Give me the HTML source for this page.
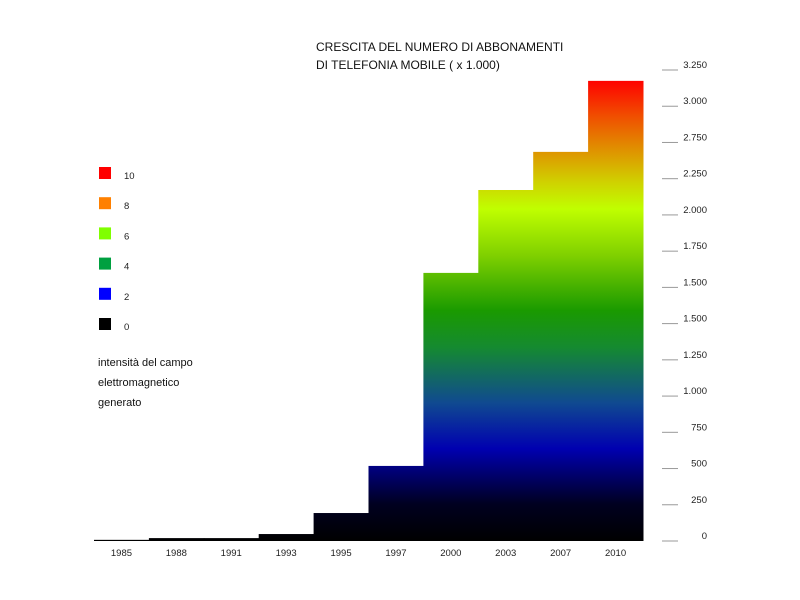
<!DOCTYPE html>
<html><head><meta charset="utf-8"><style>
body{margin:0;background:#fff;}
svg{display:block;font-family:"Liberation Sans",sans-serif;}
</style></head><body>
<svg id="chart" width="800" height="600">
<defs>
<linearGradient id="grad" gradientUnits="userSpaceOnUse" x1="0" y1="541" x2="0" y2="80">
<stop offset="0" stop-color="#000000"/>
<stop offset="0.08" stop-color="#000020"/>
<stop offset="0.2" stop-color="#0000b0"/>
<stop offset="0.3" stop-color="#104a90"/>
<stop offset="0.42" stop-color="#158a30"/>
<stop offset="0.5" stop-color="#1a9a00"/>
<stop offset="0.62" stop-color="#80d000"/>
<stop offset="0.72" stop-color="#c0ff00"/>
<stop offset="0.78" stop-color="#d0d000"/>
<stop offset="0.85" stop-color="#e09000"/>
<stop offset="0.92" stop-color="#f05000"/>
<stop offset="1" stop-color="#ff0000"/>
</linearGradient>
</defs>
<text x="316" y="51" font-size="12" fill="#111">CRESCITA DEL NUMERO DI ABBONAMENTI</text>
<text x="316" y="69" font-size="12" fill="#111">DI TELEFONIA MOBILE ( x 1.000)</text>
<g id="legend"></g>
<text x="98" y="366" font-size="11" fill="#111">intensità del campo</text>
<text x="98" y="386" font-size="11" fill="#111">elettromagnetico</text>
<text x="98" y="406" font-size="11" fill="#111">generato</text>
<g id="bars"></g>
<g id="xaxis"></g>
<g id="yaxis"></g>
</svg>
<script>
const categories = ["1985","1988","1991","1993","1995","1997","2000","2003","2007","2010"];
const values = [8, 20, 20, 48, 193, 518, 1850, 2422, 2685, 3175];
const tickValues = [0,250,500,750,1000,1250,1500,1750,2000,2250,2500,2750,3000,3250];
const tickLabels = ["0","250","500","750","1.000","1.250","1.500","1.500","1.750","2.000","2.250","2.750","3.000","3.250"];
const legendLabels = ["10","8","6","4","2","0"];
const legendColors = ["#ff0000","#ff8000","#80ff00","#00a040","#0000ff","#000000"];

const NS="http://www.w3.org/2000/svg";
const x0=94, x1=643, yBase=541, yTop=70, vMax=3250;
const bw=(x1-x0)/categories.length;
const xPos=i=>x0+i*bw;
const yPos=v=>yBase-(v/vMax)*(yBase-yTop);
function mk(tag,attrs,parent){const e=document.createElementNS(NS,tag);for(const k in attrs)e.setAttribute(k,attrs[k]);parent.appendChild(e);return e;}

const bars=document.getElementById('bars');
values.forEach((v,i)=>{
  const y=yPos(v);
  const r=mk('rect',{x:xPos(i),y:y,width:bw+0.5,height:Math.max(yBase-y,1),fill:'url(#grad)'},bars);
  
  
});
const xa=document.getElementById('xaxis');
categories.forEach((c,i)=>{
  const t=mk('text',{x:xPos(i)+bw/2,y:556,'font-size':'9.5','text-anchor':'middle',fill:'#222'},xa);
  t.textContent=c;
  
  
});
const ya=document.getElementById('yaxis');
tickValues.forEach((v,i)=>{
  const y=yPos(v);
  const l=mk('line',{x1:662,x2:678,y1:y,y2:y,stroke:'#999','stroke-width':1},ya);
  
  
  const t=mk('text',{x:707,y:y-2,'font-size':'9.5','text-anchor':'end',fill:'#222'},ya);
  t.textContent=tickLabels[i];
  
  
});
const lg=document.getElementById('legend');
legendLabels.forEach((lab,i)=>{
  const y=167+i*30.2;
  const r=mk('rect',{x:99,y:y,width:12,height:12,fill:legendColors[i]},lg);
  
  
  const t=mk('text',{x:124,y:y+12,'font-size':'9.5',fill:'#222'},lg);
  t.textContent=lab;
  
  
});
</script>
</body></html>
